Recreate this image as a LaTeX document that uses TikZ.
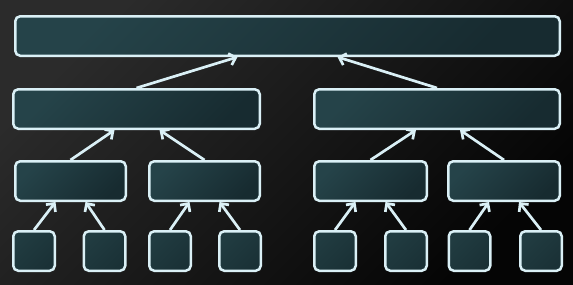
\documentclass[tikz,border=0pt]{standalone}
\usepackage{xcolor}
\usepackage{tikz}
\usetikzlibrary{arrows.meta}

\definecolor{bghi}{HTML}{2B2B2B}
\definecolor{bglo}{HTML}{050505}
\definecolor{boxhi}{HTML}{254349}
\definecolor{boxlo}{HTML}{172B30}
\definecolor{leafhi}{HTML}{213C41}
\definecolor{leaflo}{HTML}{1A3136}
\definecolor{edge}{HTML}{DAF0F6}

\begin{document}
\begin{tikzpicture}[x=1pt, y=-1pt,
    blk/.style={draw=edge, line width=2.5pt, rounded corners=5pt, inner sep=0pt,
        top color=boxhi, bottom color=boxlo, shading angle=45},
    wide/.style={blk, minimum width=#1, minimum height=39.5pt},
    leaf/.style={blk, top color=leafhi, bottom color=leaflo, shading angle=45,
        minimum width=41.5pt, minimum height=39.5pt},
    link/.style={draw=edge, line width=2.7pt, -{Straight Barb[length=6pt, width=12pt]}}]
    % dark backdrop
    \fill[top color=bghi, bottom color=bglo, shading angle=45] (0,0) rectangle (573,284);

    % root
    \node[wide=544.5pt] (root) at (287.5, 36) {};

    % second level
    \node[wide=246.5pt] (midL) at (136.5, 109) {};
    \node[wide=245.5pt] (midR) at (437, 109) {};

    % third level
    \node[wide=110.5pt] (grpA) at (70.5, 181) {};
    \node[wide=110.5pt] (grpB) at (204.5, 181) {};
    \node[wide=112.5pt] (grpC) at (370.5, 181) {};
    \node[wide=111.5pt] (grpD) at (504, 181) {};

    % leaves
    \node[leaf] (lf1) at (34, 251) {};
    \node[leaf] (lf2) at (104.5, 251) {};
    \node[leaf] (lf3) at (170, 251) {};
    \node[leaf] (lf4) at (240, 251) {};
    \node[leaf] (lf5) at (335, 251) {};
    \node[leaf] (lf6) at (406, 251) {};
    \node[leaf] (lf7) at (469.5, 251) {};
    \node[leaf] (lf8) at (541, 251) {};

    % links up the tree
    \draw[link] (midL.north) -- ([xshift=-50pt]root.south);
    \draw[link] (midR.north) -- ([xshift=50pt]root.south);

    \draw[link] (grpA.north) -- ([xshift=-22pt]midL.south);
    \draw[link] (grpB.north) -- ([xshift=23pt]midL.south);
    \draw[link] (grpC.north) -- ([xshift=-21pt]midR.south);
    \draw[link] (grpD.north) -- ([xshift=23pt]midR.south);

    \draw[link] (lf1.north) -- ([xshift=-15pt]grpA.south);
    \draw[link] (lf2.north) -- ([xshift=15pt]grpA.south);
    \draw[link] (lf3.north) -- ([xshift=-15pt]grpB.south);
    \draw[link] (lf4.north) -- ([xshift=15pt]grpB.south);
    \draw[link] (lf5.north) -- ([xshift=-15pt]grpC.south);
    \draw[link] (lf6.north) -- ([xshift=15pt]grpC.south);
    \draw[link] (lf7.north) -- ([xshift=-15pt]grpD.south);
    \draw[link] (lf8.north) -- ([xshift=15pt]grpD.south);
\end{tikzpicture}
\end{document}
